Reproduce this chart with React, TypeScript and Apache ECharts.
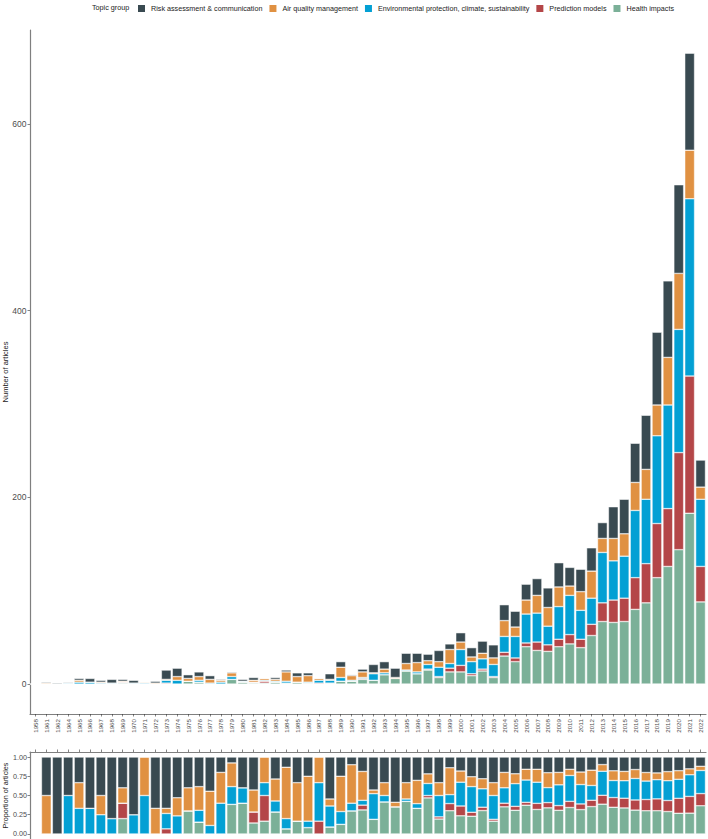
import React, { useEffect, useRef } from "react";
import * as echarts from "echarts";

const years = [
  "1958", "1961", "1962", "1964", "1965", "1966", "1967", "1968", "1969", "1970",
  "1971", "1972", "1973", "1974", "1975", "1976", "1977", "1978", "1979", "1980",
  "1981", "1982", "1983", "1984", "1985", "1986", "1987", "1988", "1989", "1990",
  "1991", "1992", "1993", "1994", "1995", "1996", "1997", "1998", "1999", "2000",
  "2001", "2002", "2003", "2004", "2005", "2006", "2007", "2008", "2009", "2010",
  "2011", "2012", "2013", "2014", "2015", "2016", "2017", "2018", "2019", "2020",
  "2021", "2022",
];

const healthImpacts = [
  0, 0, 0, 0, 0, 0, 0, 0, 1, 0,
  0, 0, 0, 0, 3, 2, 0, 0, 5, 2,
  1, 1, 2, 1, 2, 1, 0, 1, 3, 3,
  5, 4, 10, 6, 14, 11, 15, 7, 13, 13,
  9, 14, 7, 30, 24, 40, 36, 35, 40, 43,
  39, 52, 67, 66, 67, 80, 87, 114, 126, 144,
  183, 88,
];
const predictionModels = [
  0, 0, 0, 0, 0, 0, 0, 0, 1, 0,
  0, 0, 1, 0, 0, 0, 0, 0, 0, 0,
  1, 2, 0, 0, 0, 0, 1, 0, 0, 0,
  1, 0, 0, 0, 0, 0, 1, 1, 4, 7,
  2, 2, 1, 4, 4, 4, 9, 7, 8, 10,
  9, 12, 20, 24, 25, 34, 42, 58, 62, 104,
  147, 38,
];
const environmental = [
  0, 0, 0, 1, 2, 2, 1, 1, 0, 1,
  1, 0, 3, 4, 0, 2, 1, 2, 3, 1,
  0, 1, 1, 2, 0, 1, 3, 3, 4, 1,
  1, 7, 2, 0, 1, 2, 5, 10, 5, 17,
  13, 11, 13, 17, 23, 31, 31, 20, 35, 42,
  31, 28, 54, 42, 45, 72, 69, 94, 111, 132,
  190, 72,
];
const airQuality = [
  0, 1, 0, 0, 2, 0, 1, 0, 1, 0,
  1, 1, 1, 4, 3, 4, 4, 2, 4, 0,
  2, 2, 2, 10, 6, 7, 2, 1, 11, 5,
  6, 1, 4, 1, 7, 10, 4, 6, 15, 8,
  5, 6, 7, 17, 10, 15, 19, 20, 21, 10,
  20, 29, 15, 24, 24, 30, 32, 33, 51, 60,
  52, 13,
];
const riskAssessment = [
  0, 1, 1, 1, 2, 4, 2, 4, 2, 3,
  0, 2, 10, 9, 4, 5, 4, 1, 1, 2,
  3, 0, 2, 2, 4, 3, 0, 6, 6, 1,
  3, 9, 8, 10, 11, 10, 7, 12, 6, 10,
  10, 13, 14, 17, 17, 17, 18, 21, 26, 20,
  24, 25, 17, 34, 37, 42, 58, 78, 82, 95,
  104, 29,
];

const topics = [
  { name: "Health impacts", color: "#7BB098", values: healthImpacts },
  { name: "Prediction models", color: "#B44648", values: predictionModels },
  { name: "Environmental protection, climate, sustainability", color: "#03A0D4", values: environmental },
  { name: "Air quality management", color: "#E09142", values: airQuality },
  { name: "Risk assessment & communication", color: "#394A51", values: riskAssessment },
];

const legendOrder = [
  "Risk assessment & communication",
  "Air quality management",
  "Environmental protection, climate, sustainability",
  "Prediction models",
  "Health impacts",
];

const countTicks = [0, 200, 400, 600];
const proportionTicks = [0, 0.25, 0.5, 0.75, 1];

const FONT = "'Liberation Sans', Arial, Helvetica, sans-serif";
const AXIS_GRAY = "#7f7f7f";
const LABEL_GRAY = "#4d4d4d";
const TEXT_DARK = "#222222";

function buildOption() {
  const totals = years.map((_, i) => topics.reduce((s, t) => s + t.values[i], 0));

  const topSeries = topics.map((t) => ({
    name: t.name,
    type: "bar",
    stack: "count",
    xAxisIndex: 0,
    yAxisIndex: 0,
    barCategoryGap: "10%",
    itemStyle: { color: t.color, borderColor: "#ffffff", borderWidth: 0.5 },
    emphasis: { disabled: true },
    data: t.values,
  }));

  const bottomSeries = topics.map((t) => ({
    name: t.name,
    type: "bar",
    stack: "prop",
    xAxisIndex: 1,
    yAxisIndex: 1,
    barCategoryGap: "10%",
    itemStyle: { color: t.color, borderColor: "#ffffff", borderWidth: 0.5 },
    emphasis: { disabled: true },
    data: t.values.map((v, i) => (totals[i] > 0 ? v / totals[i] : null)),
  }));

  const axisLine = { show: true, onZero: false, lineStyle: { color: AXIS_GRAY, width: 1.2 } };
  const axisTick = { show: true, length: 2.5, lineStyle: { color: "#333333", width: 0.6 } };

  return {
    animation: false,
    textStyle: { fontFamily: FONT },
    graphic: [
      {
        type: "text",
        left: 92,
        top: 3.5,
        style: { text: "Topic group", fill: TEXT_DARK, fontSize: 7.2, fontFamily: FONT },
      },
    ],
    legend: {
      left: 136,
      top: 3,
      padding: 0,
      itemWidth: 9,
      itemHeight: 9,
      itemGap: 5,
      icon: "rect",
      selectedMode: false,
      data: legendOrder,
      textStyle: { fontSize: 7.2, color: TEXT_DARK, fontFamily: FONT },
    },
    grid: [
      { left: 30, top: 30, width: 676, height: 684, containLabel: false, outerBoundsMode: "none" },
      { left: 30, top: 752, width: 676, height: 87, containLabel: false, outerBoundsMode: "none" },
    ],
    xAxis: [
      {
        type: "category",
        gridIndex: 0,
        data: years,
        position: "bottom",
        axisLine,
        axisTick: { ...axisTick, alignWithLabel: true, interval: 0 },
        axisLabel: {
          interval: 0,
          rotate: 90,
          fontSize: 6.2,
          margin: 5,
          color: LABEL_GRAY,
          fontFamily: FONT,
        },
        splitLine: { show: false },
      },
      {
        type: "category",
        gridIndex: 1,
        data: years,
        position: "top",
        axisLine,
        axisTick: { ...axisTick, alignWithLabel: true, interval: 0 },
        axisLabel: { show: false },
        splitLine: { show: false },
      },
    ],
    yAxis: [
      {
        type: "value",
        gridIndex: 0,
        min: -32.1,
        max: 700.8,
        name: "Number of articles",
        nameLocation: "middle",
        nameGap: 21,
        nameMoveOverlap: false,
        nameTextStyle: { fontSize: 7.5, color: TEXT_DARK, fontFamily: FONT },
        axisLine,
        axisTick: { ...axisTick, customValues: countTicks },
        axisLabel: {
          customValues: countTicks,
          fontSize: 8.5,
          margin: 3.5,
          color: LABEL_GRAY,
          fontFamily: FONT,
        },
        splitLine: { show: false },
      },
      {
        type: "value",
        gridIndex: 1,
        min: -0.065,
        max: 1.065,
        name: "Proportion of articles",
        nameLocation: "middle",
        nameGap: 21,
        nameMoveOverlap: false,
        nameTextStyle: { fontSize: 7.2, color: TEXT_DARK, fontFamily: FONT },
        axisLine,
        axisTick: { ...axisTick, customValues: proportionTicks },
        axisLabel: {
          customValues: proportionTicks,
          formatter: (v: number) => v.toFixed(2),
          fontSize: 7.2,
          margin: 3,
          color: LABEL_GRAY,
          fontFamily: FONT,
        },
        splitLine: { show: false },
      },
    ],
    series: [...topSeries, ...bottomSeries],
  };
}

export default function App() {
  const ref = useRef<HTMLDivElement>(null);

  useEffect(() => {
    document.body.style.margin = "0";
    if (!ref.current) return;
    const chart = echarts.init(ref.current, undefined, { renderer: "svg" });
    chart.setOption(buildOption() as any);
    return () => {
      chart.dispose();
    };
  }, []);

  return (
    <div
      ref={ref}
      style={{ position: "absolute", left: 0, top: 0, width: 708, height: 839, background: "#ffffff" }}
    />
  );
}
